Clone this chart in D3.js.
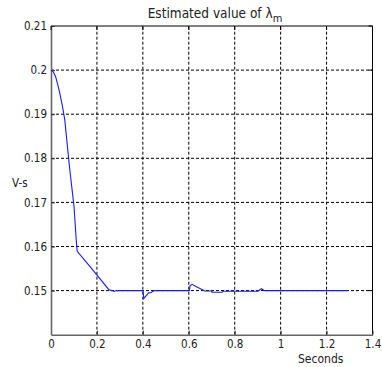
<!DOCTYPE html>
<html><head><meta charset="utf-8">
<script src="https://cdn.jsdelivr.net/npm/d3@7"></script>
<style>body{margin:0;background:#fff}text{font-family:"Liberation Sans Narrow","DejaVu Sans Condensed","Liberation Sans",sans-serif;fill:#222}</style>
</head><body><svg id="c" width="382" height="367"></svg>
<script>
const xTicks=[0,0.2,0.4,0.6,0.8,1,1.2,1.4];
const yTicks=[0.15,0.16,0.17,0.18,0.19,0.2,0.21];
const tVals=[0,0.01,0.02,0.03,0.04,0.05,0.06,0.07,0.08,0.09,0.10,0.110,0.114,0.18,0.252,0.265,0.275,0.285,0.401,0.404,0.425,0.435,0.445,0.452,0.603,0.605,0.614,0.64,0.670,0.700,0.701,0.745,0.749,0.901,0.916,0.930,1.29];
const vVals=[0.2,0.1996,0.1985,0.1966,0.1943,0.1918,0.1887,0.1835,0.1783,0.1737,0.1692,0.1614,0.1589,0.1548,0.1502,0.1500,0.1498,0.1500,0.1500,0.1482,0.1495,0.1495,0.1499,0.1500,0.1500,0.1511,0.15143,0.1507,0.14991,0.14991,0.14961,0.14961,0.14984,0.14984,0.15043,0.1500,0.1500];
const svg=d3.select("#c");
const x=d3.scaleLinear().domain([0,1.4]).range([51,372.5]);
const y=d3.scaleLinear().domain([0.14,0.21]).range([334.7,26]);
// grid
const g=svg.append("g");
g.selectAll("line.gx").data(xTicks.slice(1,-1)).join("line").attr("x1",d=>x(d)).attr("x2",d=>x(d)).attr("y1",y(0.14)).attr("y2",y(0.21)).attr("stroke","#000").attr("stroke-dasharray","3,2").attr("stroke-width",1);
g.selectAll("line.gy").data(yTicks.filter(d=>d<0.209)).join("line").attr("y1",d=>y(d)).attr("y2",d=>y(d)).attr("x1",x(0)).attr("x2",x(1.4)).attr("stroke","#000").attr("stroke-dasharray","3,2").attr("stroke-width",1);
// line
const data=tVals.map((t,i)=>[t,vVals[i]]);
svg.append("path").datum(data).attr("d",d3.line().x(d=>x(d[0])).y(d=>y(d[1]))).attr("fill","none").attr("stroke","#1a1aff").attr("stroke-width",1.1);
// box
svg.append("line").attr("x1",x(0)).attr("x2",x(1.4)).attr("y1",y(0.21)).attr("y2",y(0.21)).attr("stroke","#000");
svg.append("line").attr("x1",x(1.4)).attr("x2",x(1.4)).attr("y1",y(0.21)).attr("y2",y(0.14)).attr("stroke","#000");
// axes
const ax=d3.axisBottom(x).tickValues(xTicks).tickSizeInner(-4).tickSizeOuter(0).tickPadding(5).tickFormat(d3.format("~g"));
const axg=svg.append("g").attr("transform",`translate(0,${y(0.14)})`).call(ax);
const ay=d3.axisLeft(y).tickValues(yTicks).tickSizeInner(-4).tickSizeOuter(0).tickPadding(4).tickFormat(d3.format("~g"));
const ayg=svg.append("g").attr("transform",`translate(${x(0)},0)`).call(ay);
[axg,ayg].forEach(a=>{a.select(".domain").attr("stroke","#666").attr("stroke-width",1.6);a.selectAll(".tick line").attr("stroke","#333");a.selectAll("text").attr("font-size",11.5).attr("fill","#222").style("font-family",'"Liberation Sans Narrow","DejaVu Sans Condensed",sans-serif');});
// right/top ticks on box
svg.selectAll("line.rt").data(yTicks).join("line").attr("x1",x(1.4)).attr("x2",x(1.4)-4).attr("y1",d=>y(d)).attr("y2",d=>y(d)).attr("stroke","#000");
svg.selectAll("line.tt").data(xTicks).join("line").attr("x1",d=>x(d)).attr("x2",d=>x(d)).attr("y1",y(0.21)).attr("y2",y(0.21)+4).attr("stroke","#000");
// labels
const t=svg.append("text").attr("x",215).attr("y",18).attr("text-anchor","middle").attr("font-size",13.5);
t.append("tspan").text("Estimated value of λ");
t.append("tspan").attr("dy",4).attr("font-size",11).text("m");
svg.append("text").attr("x",12).attr("y",187).attr("font-size",11.5).text("V-s");
svg.append("text").attr("x",298).attr("y",363).attr("font-size",12).text("Seconds");
</script></body></html>
